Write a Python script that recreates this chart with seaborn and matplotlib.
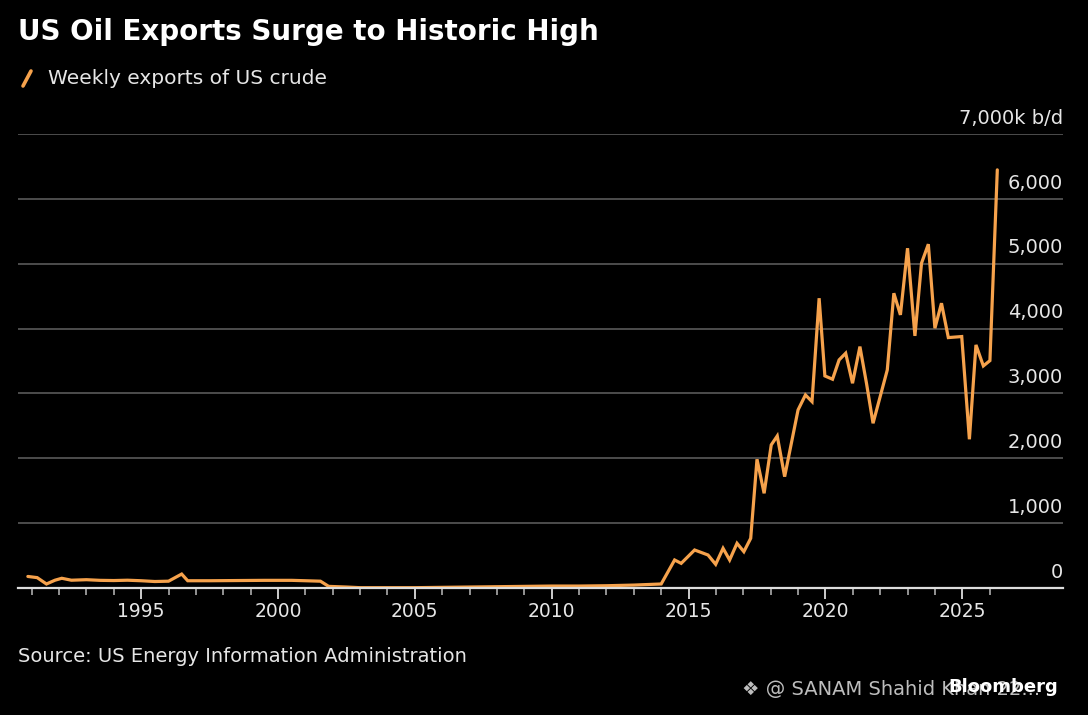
import matplotlib
matplotlib.use("Agg")
import matplotlib.pyplot as plt
import seaborn as sns
import pandas as pd
from matplotlib.lines import Line2D

# ---- data ----
years = [1990.86, 1991.2, 1991.54, 1991.85, 1992.1, 1992.45, 1993.0, 1993.5, 1994.0, 1994.5,
         1995.0, 1995.5, 1996.0, 1996.48, 1996.7, 1997.5, 1998.5, 1999.5, 2000.5, 2001.0,
         2001.55, 2001.85, 2002.5, 2003.0, 2004.0, 2005.0, 2006.0, 2007.0, 2008.0, 2009.0,
         2010.0, 2011.0, 2012.0, 2013.0, 2014.0,
         2014.49, 2014.73, 2015.22, 2015.71, 2015.99, 2016.26, 2016.5, 2016.77, 2017.02, 2017.27,
         2017.5, 2017.76, 2018.02, 2018.24, 2018.51, 2019.0, 2019.27, 2019.51, 2019.77, 2019.98,
         2020.26, 2020.5, 2020.74, 2020.99, 2021.26, 2021.5, 2021.74, 2022.26, 2022.5, 2022.74,
         2023.0, 2023.27, 2023.51, 2023.76, 2024.0, 2024.24, 2024.49, 2024.98, 2025.26, 2025.5,
         2025.77, 2026.01, 2026.28]
exports = [178, 160, 62, 120, 150, 120, 128, 118, 115, 120,
           112, 100, 105, 215, 112, 112, 115, 118, 118, 112,
           105, 25, 15, 5, 5, 5, 10, 15, 20, 25,
           30, 30, 35, 45, 62,
           432, 380, 586, 509, 365, 612, 432, 689, 560, 766,
           1985, 1460, 2206, 2344, 1717, 2746, 2977, 2874, 4468, 3270,
           3219, 3517, 3620, 3157, 3722, 3157, 2540, 3362, 4545, 4211,
           5239, 3887, 5008, 5301, 4005, 4391, 3861, 3877, 2293, 3748,
           3424, 3506, 6447]
major_years = [1995, 2000, 2005, 2010, 2015, 2020, 2025]
minor_years = list(range(1991, 2027))
y_ticks = [0, 1000, 2000, 3000, 4000, 5000, 6000, 7000]
y_labels = ["0", "1,000", "2,000", "3,000", "4,000", "5,000", "6,000", "7,000k b/d"]

title = "US Oil Exports Surge to Historic High"
legend_label = "Weekly exports of US crude"
source = "Source: US Energy Information Administration"

df = pd.DataFrame({"year": years, "exports": exports})

# ---- style ----
sns.set_theme(style="dark")
plt.rcParams["font.family"] = ["DejaVu Sans"]
BG = "#000000"
ORANGE = "#F6A24C"
GRID = "#4d4d4d"
TXT = "#e6e6e6"

W, H = 1088, 715
fig = plt.figure(figsize=(W / 100, H / 100), dpi=100, facecolor=BG)
ax = fig.add_axes([18 / W, 1 - 588 / H, (1063 - 18) / W, (588 - 134) / H])
ax.set_facecolor(BG)

sns.lineplot(data=df, x="year", y="exports", ax=ax, color=ORANGE, linewidth=2.3,
             solid_joinstyle="miter", legend=False)

ax.set_xlim(1990.5, 2028.68)
ax.set_ylim(0, 7000)

# gridlines
for v in y_ticks[1:]:
    ax.axhline(v, color=GRID, linewidth=1.4, zorder=0)
ax.set_yticks([])
ax.set_xlabel("")
ax.set_ylabel("")

for s in ["top", "right", "left"]:
    ax.spines[s].set_visible(False)
ax.spines["bottom"].set_color("#dddddd")
ax.spines["bottom"].set_linewidth(1.6)
ax.spines["bottom"].set_zorder(3)

ax.set_xticks(major_years)
ax.set_xticklabels([str(y) for y in major_years])
ax.set_xticks(minor_years, minor=True)
ax.tick_params(axis="x", which="major", length=8, width=1.3, color="#dddddd",
               labelcolor=TXT, labelsize=13.5, pad=2, direction="out", bottom=True)
ax.tick_params(axis="x", which="minor", length=5, width=1.1, color="#bbbbbb",
               direction="out", bottom=True)

# y labels above gridlines at right
for v, lab in zip(y_ticks, y_labels):
    ax.annotate(lab, xy=(1.0, v), xycoords=("axes fraction", "data"),
                xytext=(0, 4.5), textcoords="offset points",
                ha="right", va="bottom", color=TXT, fontsize=14)

# title and legend
fig.text(18 / W, 1 - 32 / H, title, color="white", fontsize=20, fontweight="bold",
         ha="left", va="center")
fig.add_artist(Line2D([23 / W, 31 / W], [1 - 86 / H, 1 - 71 / H], color=ORANGE,
                      linewidth=2.6, transform=fig.transFigure))
fig.text(48 / W, 1 - 78 / H, legend_label, color=TXT, fontsize=14.5, ha="left", va="center")

# source and credits
fig.text(18 / W, 1 - 657 / H, source, color=TXT, fontsize=14, ha="left", va="center")
fig.text(742 / W, 1 - 689 / H, "\u2756 @ SANAM Shahid Khan 22...", color="#bdbdbd",
         fontsize=14, ha="left", va="center")
fig.text(1058 / W, 1 - 687 / H, "Bloomberg", color="white", fontsize=13,
         fontweight="bold", ha="right", va="center")

fig.savefig("out.png", dpi=100, facecolor=BG)
